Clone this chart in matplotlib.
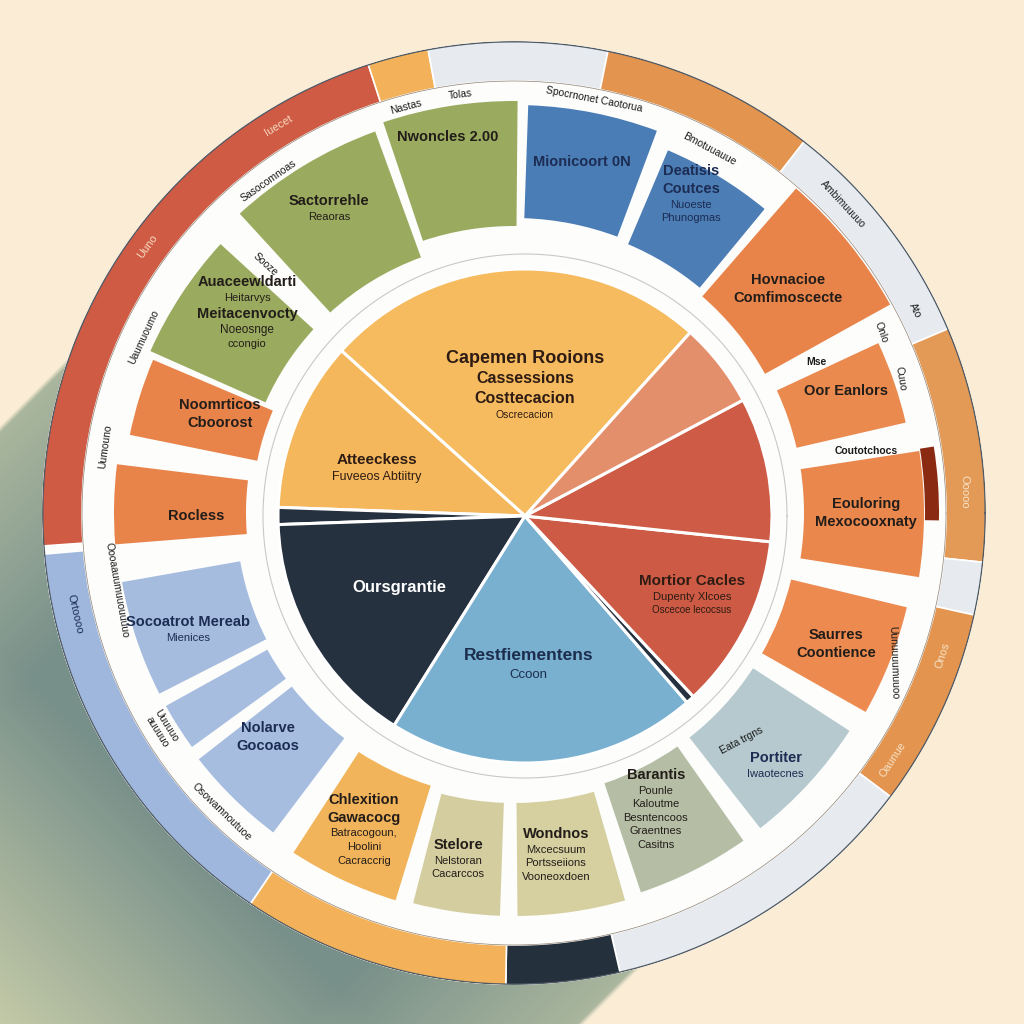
import numpy as np
import matplotlib.pyplot as plt

plt.rcParams['font.family'] = ['Liberation Sans', 'DejaVu Sans']

# inner pie (slice sizes in degrees, counter-clockwise from the start angle)
inner_labels = ['Capemen Rooions\nCassessions\nCosttecacion\nOscrecacion',
                'Atteeckess\nFuveeos Abtiitry', '', 'Oursgrantie',
                'Restfiementens\nCcoon', '',
                'Mortior Cacles\nDupenty Xlcoes\nOscecoe lecocsus', '', '']
inner_sizes = [90, 40, 4, 56, 73, 2, 41, 34, 20]
inner_start = 48

# middle ring boxes (degrees)
mid_start = [89.5, 69.5, 50.5, 29, 13, -9, -29.5, -52, -71.5, -89.5, -104.5,
             -123, -142, -151, -170, 173, 157, 137.5, 110]
mid_end = [108.5, 88, 67, 49, 25, 8.7, -13.5, -33, -55, -74, -92,
           -107, -127, -144, -153, 184.5, 168.5, 156, 132.5]
mid_titles = ['Nwoncles 2.00', 'Mionicoort 0N', 'Deatisis\nCoutces',
              'Hovnacioe\nComfimoscecte', 'Oor Eanlors', 'Eouloring\nMexocooxnaty',
              'Saurres\nCoontience', 'Portiter', 'Barantis', 'Wondnos', 'Stelore',
              'Chlexition\nGawacocg', 'Nolarve\nGocoaos', '', 'Socoatrot Mereab',
              'Rocless', 'Noomrticos\nCboorost', 'Auaceewldarti', 'Sactorrehle']
mid_bodies = ['', '', 'Nuoeste\nPhunogmas', '', '', '', '', 'Iwaotecnes',
              'Pounle\nKaloutme\nBesntencoos\nGraentnes\nCasitns',
              'Mxcecsuum\nPortsseiions\nVooneoxdoen', 'Nelstoran\nCacarccos',
              'Batracogoun,\nHoolini\nCacraccrig', '', '', 'Mienices', '', '',
              'Heitarvys\nMeitacenvocty\nNoeosnge\nccongio', 'Reaoras']

# outer ring (degrees)
outer_start = [108, 100.5, 78.5, 52, 23, -6, -12.5, -37, -77, -91, -124, -175]
outer_end = [184, 108, 100.5, 78.5, 52, 23, -6, -12.5, -37, -77, -91, -124]
outer_labels = ['Iuecet', 'Uuno', 'Ortoooo', 'Ooooo', 'Onos', 'Oaunue']

# small captions in the white gaps
gap_labels = ['Nastas', 'Tolas', 'Spocrnonet Caotorua', 'Bmotuuauue', 'Ambimuuuuo',
              'Ato', 'Onlo', 'Mse', 'Cuuo', 'Coutotchocs', 'Uunuuuumuuoo',
              'Sasocomnoas', 'Sooze', 'Uaumuoumo', 'Uumouno', 'Oooaauumuuouuuuo',
              'Uuuuuo\nauuuuo', 'Osowamnoutuoe', 'Eata trgns']

# ---------------- styles ----------------
bg_col = '#fbecd6'
inner_colors = ['#f6bb5f', '#f4b75c', '#26313f', '#26313f', '#79b0d0',
                '#26313f', '#cc5a44', '#cd5b45', '#e48f6c']
inner_text_col = ['#2e1c14', '#2e1c14', 'white', 'white', '#1c2d4d', 'white',
                  '#2e1c14', 'white', 'white']
inner_pos = [(90, 132), (162, 156), (0, 0), (209.6, 144), (271.5, 148), (0, 0),
             (-25, 184), (0, 0), (0, 0)]
inner_font = [[13, 11.5, 11.5, 7.5], [11, 9], [], [12], [12.5, 9.5], [],
              [11, 8, 7], [], []]

mid_colors = ['#9aab5f', '#4a7db6', '#4c7db5', '#e8844a', '#ea8a4e', '#ea874c',
              '#ec8a4f', '#b5c9cf', '#b5bea5', '#d6cf9f', '#d4cd9f', '#f2b45a',
              '#a6bde0', '#a6bde0', '#a5bcdf', '#e8844a', '#e8844a', '#9aab5f',
              '#9aab5f']
mid_outer = [412, 408, 394, 430, 402, 410, 404, 400, 400, 403, 403, 405,
             400, 398, 398, 400, 392, 398, 406]
mid_inner = [287, 295, 292, 287, 290, 290, 285, 285, 285, 290, 290, 285,
             282, 282, 278, 268, 262, 272, 272]
dark = '#231d1a'
navy = '#1c2c52'
mid_text_col = [dark, navy, navy, dark, dark, dark, dark, navy, dark, dark, dark,
                dark, navy, navy, navy, dark, dark, dark, dark]
mid_pos = [(100, 382), (79, 358), (61, 365), (39.3, 354), (20.2, 354), (0, 352),
           (-22.1, 348), (-43.9, 363), (-64.4, 328), (-83, 344), (-99.2, 350),
           (-115.4, 350), (-137.7, 333), (0, 0), (-160.4, 346), (180.5, 318),
           (161.4, 310), (143, 334), (121.2, 357)]

outer_colors = ['#cf5b45', '#f3b25a', '#e7ebf0', '#e3954f', '#e7ebf0', '#e39a56',
                '#e7ebf0', '#e3954f', '#e7ebf0', '#25303d', '#f3b25a', '#9fb7dc']
outer_pos = [(121.3, 453, 31), (143.9, 453, 54), (-167, 451, -77),
             (2.7, 451, -90), (-18.3, 452, 72), (-33, 452, 57)]
outer_text_col = ['#f6dcc0', '#f6dcc0', navy, '#f6e2c8', '#f6e2c8', '#f6e2c8']

gap_pos = [(104.9, 420, 15), (97.3, 422, 7), (79, 421, -11), (61.7, 413, -28),
           (43.2, 451, -47), (26.8, 449, -63), (26.3, 409, -70), (26.6, 338, 0),
           (19.2, 409, -80), (10, 358, 0), (-21.5, 408, -88), (126.5, 413, 35),
           (135, 352, -42), (154.6, 410, 65), (170.7, 414, 82), (-169, 405, -80),
           (-148.5, 413, -58), (-134.3, 418, -44), (-45, 322, 28)]

fig = plt.figure(figsize=(10.24, 10.24), dpi=100, facecolor=bg_col)

# background with the long diagonal shadow
bg = fig.add_axes([0, 0, 1, 1])
bg.set_xlim(0, 1024)
bg.set_ylim(1024, 0)
bg.axis('off')
yy, xx = np.mgrid[0:1024, 0:1024] + 0.5
along = (-(xx - 514) + (yy - 513)) / np.sqrt(2)
across = ((xx - 514) + (yy - 513)) / np.sqrt(2)
edge = np.clip((across + 425) / 200, 0, 1) * np.clip((411 - across) / 200, 0, 1)
s = np.clip((760 - along) / 300, 0, 1) * (0.4 + 0.6 * edge)
light = np.array([205, 209, 171]) / 255
darkc = np.array([120, 144, 138]) / 255
rgba = np.zeros((1024, 1024, 4))
for k in range(3):
    rgba[..., k] = light[k] + (darkc[k] - light[k]) * s
rgba[..., 3] = (np.clip((across + 425) / 5, 0, 1) * np.clip((411 - across) / 5, 0, 1)
                * (along > 0))
bg.imshow(rgba, extent=(0, 1024, 1024, 0), interpolation='bilinear')

# outer wheel (radius units = pixels)
R = 472
cx, cy = 514 / 1024, 1 - 513 / 1024
ax = fig.add_axes([cx - R / 1024, cy - R / 1024, 2 * R / 1024, 2 * R / 1024],
                  projection='polar')
ax.set_ylim(0, R)
ax.set_axis_off()
ax.patch.set_alpha(0)

ax.bar(0, R, width=2 * np.pi, bottom=0, color='#fdfdfc', linewidth=0)

ostart = np.array(outer_start)
owidth = np.array(outer_end) - ostart
ax.bar(np.deg2rad(ostart), R - 432, width=np.deg2rad(owidth), bottom=432,
       align='edge', color=outer_colors, edgecolor='white', linewidth=1.2)
full = np.linspace(0, 2 * np.pi, 400)
ax.plot(full, np.full_like(full, R - 0.8), color='#4f5a63', lw=1.0)
ax.plot(full, np.full_like(full, 432), color='#8f8170', lw=0.5)
ax.bar(np.deg2rad(-1), 14, width=np.deg2rad(10), bottom=411, align='edge',
       color='#8a2a12', linewidth=0)

mstart = np.array(mid_start)
mwidth = np.array(mid_end) - mstart
mbottom = np.array(mid_inner)
ax.bar(np.deg2rad(mstart), np.array(mid_outer) - mbottom, width=np.deg2rad(mwidth),
       bottom=mbottom, align='edge', color=mid_colors, linewidth=0)


def stack(axis, theta, r, lines, sizes, color, weights, rot=0):
    heights = [sz * 1.22 for sz in sizes]
    y = sum(heights) / 2
    for ln, sz, h, w in zip(lines, sizes, heights, weights):
        axis.annotate(ln, xy=(np.deg2rad(theta), r), xytext=(0, y - h / 2),
                      textcoords='offset points', ha='center', va='center',
                      fontsize=sz, color=color, fontweight=w, rotation=rot)
        y -= h


for i in range(len(mid_titles)):
    tl = mid_titles[i].split('\n') if mid_titles[i] else []
    bl = mid_bodies[i].split('\n') if mid_bodies[i] else []
    if not tl and not bl:
        continue
    sizes = [10.5] * len(tl) + [8] * len(bl)
    weights = ['bold'] * len(tl) + ['normal'] * len(bl)
    if i == 17:
        sizes = [10.5, 8, 10.5, 8.5, 8]
        weights = ['bold', 'normal', 'bold', 'normal', 'normal']
    th, r = mid_pos[i]
    stack(ax, th, r, tl + bl, sizes, mid_text_col[i], weights)

for txt, (th, r, rot) in zip(gap_labels, gap_pos):
    ax.text(np.deg2rad(th), r, txt, ha='center', va='center', rotation=rot,
            fontsize=7.5, color='#1a1a1a', rotation_mode='anchor',
            fontweight='bold' if txt in ('Mse', 'Coutotchocs') else 'normal')

for txt, (th, r, rot), col in zip(outer_labels, outer_pos, outer_text_col):
    ax.text(np.deg2rad(th), r, txt, ha='center', va='center', rotation=rot,
            fontsize=8, color=col, rotation_mode='anchor')

# inner pie on its own axes (slightly offset centre)
PR = 270
px, py = 525 / 1024, 1 - 516 / 1024
pax = fig.add_axes([px - PR / 1024, py - PR / 1024, 2 * PR / 1024, 2 * PR / 1024],
                   projection='polar')
pax.set_ylim(0, PR)
pax.set_axis_off()
pax.patch.set_alpha(0)
pfull = np.linspace(0, 2 * np.pi, 400)
pax.plot(pfull, np.full_like(pfull, 262), color='#c9c9c4', lw=0.8)

starts = inner_start + np.concatenate([[0], np.cumsum(inner_sizes)[:-1]])
pax.bar(np.deg2rad(starts), 247, width=np.deg2rad(inner_sizes), bottom=0,
        align='edge', color=inner_colors, edgecolor='white', linewidth=2.2)

for i, lab in enumerate(inner_labels):
    if not lab:
        continue
    lines = lab.split('\n')
    th, r = inner_pos[i]
    weights = ['bold'] + ['normal'] * (len(lines) - 1)
    if i == 0:
        weights = ['bold', 'bold', 'bold', 'normal']
    stack(pax, th, r, lines, inner_font[i], inner_text_col[i], weights)

fig.savefig('out.png', dpi=100, facecolor=bg_col)
